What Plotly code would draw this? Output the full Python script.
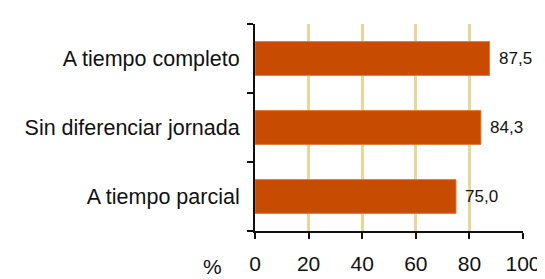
import plotly.graph_objects as go

categories = ["A tiempo completo", "Sin diferenciar jornada", "A tiempo parcial"]
values = [87.5, 84.3, 75.0]
x_ticks = [0, 20, 40, 60, 80, 100]
x_tick_labels = ["0", "20", "40", "60", "80", "100"]
unit_label = "%"

BAR = "#C84B02"
GRID = "#E9D79A"
FONT = "Liberation Sans, Arial, sans-serif"

fig = go.Figure()
fig.add_trace(go.Bar(
    y=categories, x=values, orientation="h",
    marker=dict(color=BAR, line=dict(color="#E07A3A", width=1)),
    width=0.49, hoverinfo="skip",
))

for c, v in zip(categories, values):
    fig.add_annotation(
        x=v, y=c, xref="x", yref="y",
        text=f"{v:.1f}".replace(".", ","),
        showarrow=False, xanchor="left", xshift=7,
        font=dict(family=FONT, size=17, color="#111"),
    )

fig.add_annotation(
    x=-0.16, y=-0.105, xref="paper", yref="paper",
    text=unit_label, showarrow=False, xanchor="center", yanchor="top",
    font=dict(family=FONT, size=21, color="#111"),
)

fig.update_layout(
    width=545, height=279,
    margin=dict(l=247, r=20, t=16, b=40),
    plot_bgcolor="white", paper_bgcolor="white",
    showlegend=False,
    font=dict(family=FONT, size=21.5, color="#111"),
    xaxis=dict(
        range=[0, 100], tickvals=x_ticks, ticktext=x_tick_labels,
        showgrid=True, gridcolor=GRID, gridwidth=3,
        showline=True, linecolor="#111", linewidth=2,
        ticks="outside", ticklen=6, tickwidth=2, tickcolor="#111",
        ticklabelstandoff=7, tickfont=dict(size=21),
        ticklabeloverflow="allow",
        zeroline=False, fixedrange=True,
    ),
    yaxis=dict(
        categoryorder="array", categoryarray=categories[::-1],
        showgrid=False, showline=True, linecolor="#111", linewidth=2,
        ticks="outside", tickson="boundaries", ticklen=6, tickwidth=2,
        tickcolor="#111", ticklabelstandoff=9, fixedrange=True,
    ),
)

fig.write_html("out.html")
